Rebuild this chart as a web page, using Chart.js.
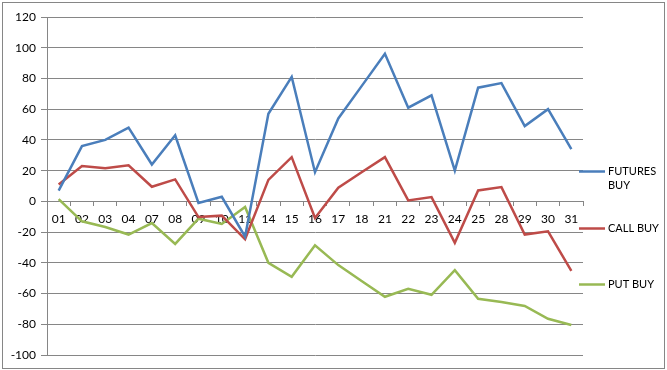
<!DOCTYPE html>
<html><head><meta charset="utf-8">
<script src="https://cdn.jsdelivr.net/npm/chart.js@4/dist/chart.umd.min.js"></script>
<style>html,body{margin:0;padding:0;background:#fff;overflow:hidden}</style>
</head><body>
<canvas id="c" width="667" height="370"></canvas>
<script>
const categories = ['01','02','03','04','07','08','09','10','11','14','15','16','17','18','21','22','23','24','25','28','29','30','31'];
const futuresBuy = [7, 36, 40, 48, 24, 43, -1, 3, -23, 57, 81, 19, 54, 75, 96, 61, 69, 20, 74, 77, 49, 60, 34];
const callBuy = [11, 23, 21.5, 23.5, 9.5, 14.3, -10.2, -9.3, -24.7, 14, 28.8, -10.8, 8.9, 18.9, 28.8, 0.6, 2.8, -27, 7.1, 9.3, -21.6, -19.5, -45.2];
const putBuy = [1.5, -13, -16.7, -21.6, -14.1, -27.7, -11.3, -14.7, -3.7, -40, -49.1, -28.6, -41.5, -51.8, -62.1, -56.9, -60.8, -44.8, -63.4, -65.5, -68.1, -76.4, -80.5];
const seriesNames = ['FUTURES BUY', 'CALL BUY', 'PUT BUY'];
const yMin = -100, yMax = 120, yStep = 20;

const gridColor = '#868686';
const FONT = 'Lato';
const colors = ['#4A7EBB', '#BE4B48', '#98B954'];

const frame = {
  id: 'frame',
  beforeDraw(chart) {
    const ctx = chart.ctx;
    ctx.save();
    ctx.fillStyle = '#fff';
    ctx.fillRect(0, 0, chart.width, chart.height);
    ctx.strokeStyle = gridColor;
    ctx.lineWidth = 1;
    ctx.strokeRect(2.5, 2.5, chart.width - 5, chart.height - 4);
    ctx.restore();
  }
};

const sideLegend = {
  id: 'sideLegend',
  afterDraw(chart) {
    const ctx = chart.ctx;
    const x0 = chart.chartArea.right - 4;
    const swatchW = 26;
    const tx = x0 + swatchW + 3;
    const maxW = 56;
    const centers = [178, 228, 284];
    ctx.save();
    ctx.font = '11px ' + FONT;
    ctx.textBaseline = 'middle';
    ctx.fillStyle = '#000';
    chart.data.datasets.forEach((ds, i) => {
      const words = ds.label.split(' ');
      const lines = [];
      let cur = '';
      words.forEach(w => {
        const t = cur ? cur + ' ' + w : w;
        if (ctx.measureText(t).width > maxW && cur) { lines.push(cur); cur = w; } else cur = t;
      });
      lines.push(cur);
      const lh = 14;
      const top = centers[i] - (lines.length - 1) * lh / 2;
      ctx.strokeStyle = ds.borderColor;
      ctx.lineWidth = 2.5;
      ctx.beginPath();
      ctx.moveTo(x0, top + 0.5);
      ctx.lineTo(x0 + swatchW, top + 0.5);
      ctx.stroke();
      lines.forEach((l, k) => ctx.fillText(l, tx, top + k * lh));
    });
    ctx.restore();
  }
};

const mk = (label, data, i) => ({
  label, data, borderColor: colors[i], backgroundColor: colors[i],
  borderWidth: 2.5, pointRadius: 0, tension: 0, fill: false
});

new Chart(document.getElementById('c'), {
  type: 'line',
  data: {
    labels: categories,
    datasets: [mk(seriesNames[0], futuresBuy, 0), mk(seriesNames[1], callBuy, 1), mk(seriesNames[2], putBuy, 2)]
  },
  options: {
    responsive: false,
    animation: false,
    devicePixelRatio: 1,
    layout: { padding: { left: 0, right: 84, top: 17, bottom: 15 } },
    plugins: { legend: { display: false }, tooltip: { enabled: false } },
    scales: {
      x: {
        position: { y: 0 },
        offset: true,
        afterFit: s => { s.height = 0; },
        grid: { drawOnChartArea: false, drawTicks: true, tickLength: 4, color: gridColor, offset: true },
        border: { display: true, color: gridColor },
        ticks: { autoSkip: false, maxRotation: 0, padding: 7, color: '#000', font: { family: FONT, size: 12 } }
      },
      y: {
        min: yMin, max: yMax,
        afterFit: s => { s.width = 47; },
        grid: { color: gridColor, tickLength: 6, drawTicks: true },
        border: { display: true, color: gridColor },
        ticks: { stepSize: yStep, padding: 5, color: '#000', font: { family: FONT, size: 12 } }
      }
    }
  },
  plugins: [frame, sideLegend]
});
</script>
</body></html>
